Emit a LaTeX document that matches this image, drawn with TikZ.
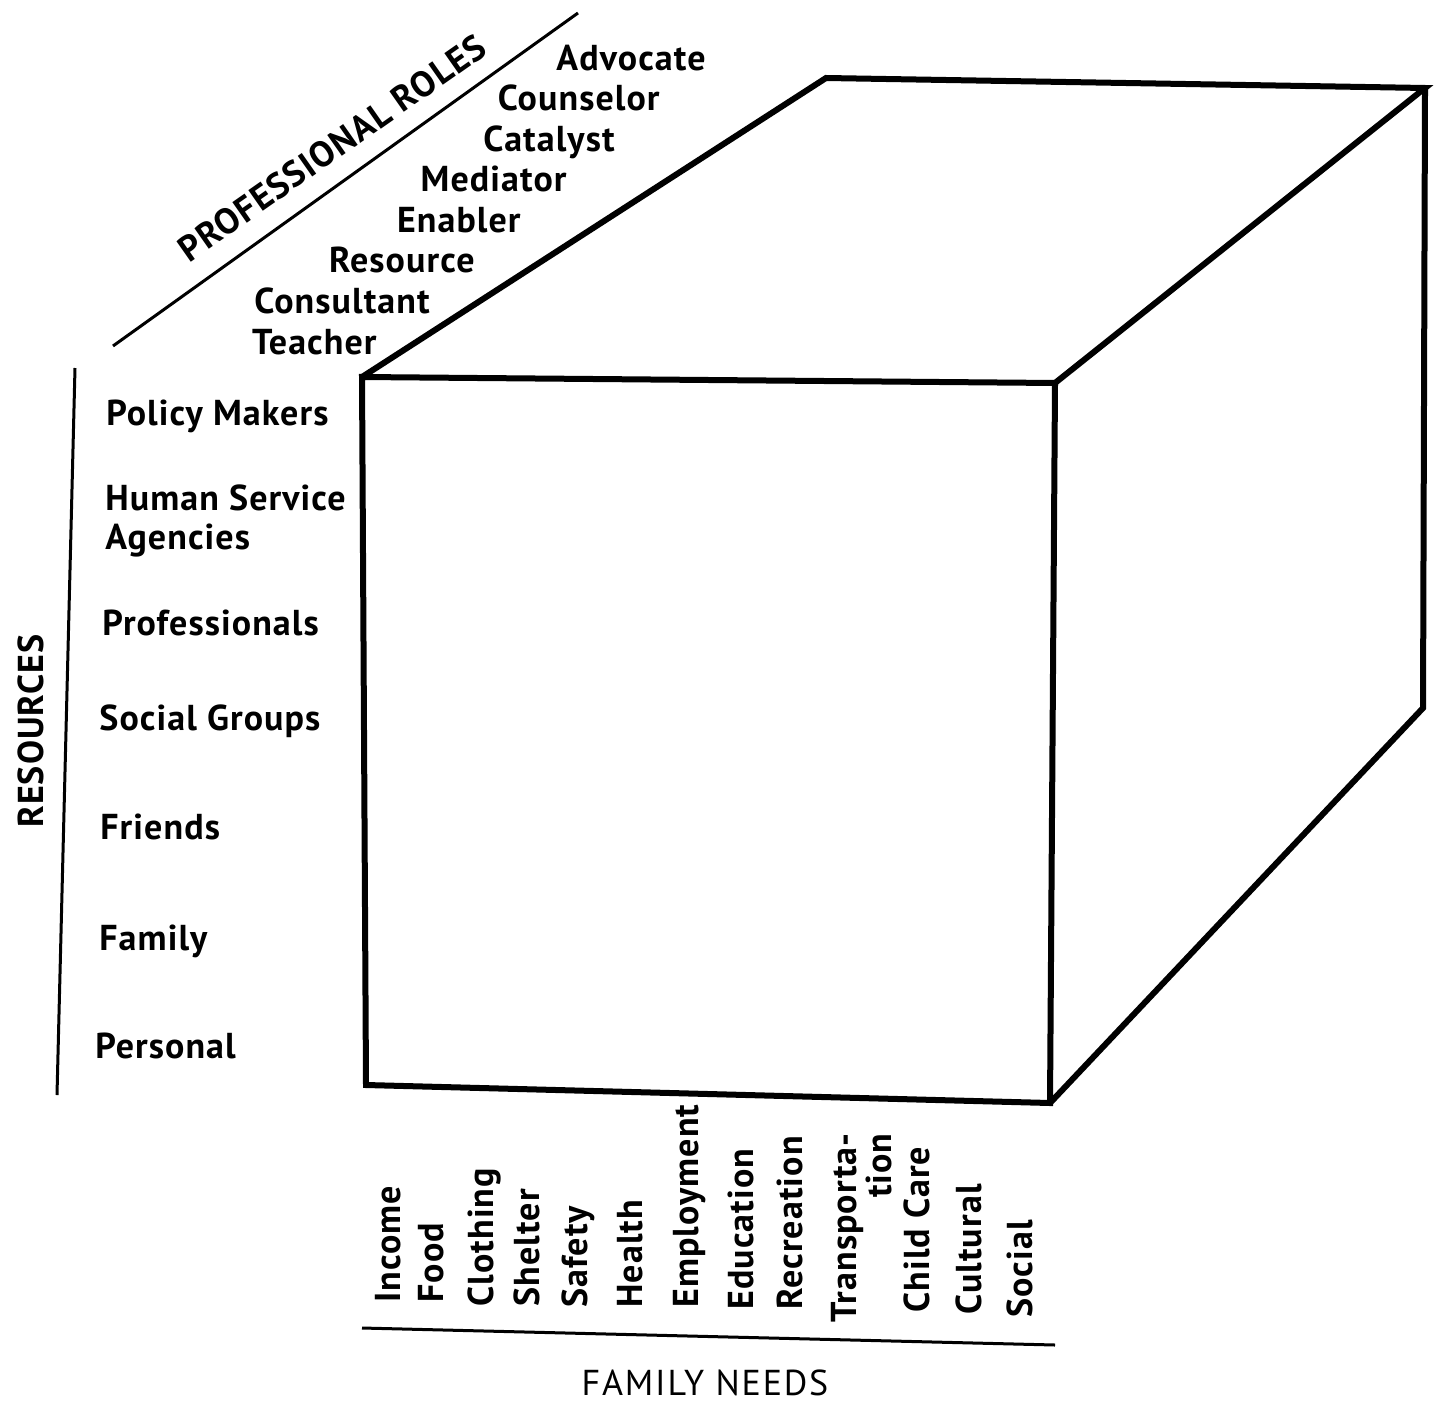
\documentclass[tikz,border=0pt]{standalone}
\usepackage{fontspec}
\setmainfont{PT Sans}[LetterSpace=3]
\begin{document}
\begin{tikzpicture}[x=0.5pt,y=-0.5pt,
  cube/.style={line width=3pt,line join=miter},
  axisline/.style={line width=1.5pt},
  lbl/.style={font=\fontsize{18}{20}\selectfont\bfseries,inner sep=0pt},
  need/.style={lbl,rotate=90,anchor=west,text height=0.72em,text depth=0.22em},
  axistitle/.style={font=\fontsize{18}{20}\selectfont,inner sep=0pt}]
\useasboundingbox (0,0) rectangle (1438,1401);
% cube corners
\coordinate (A) at (362,377);
\coordinate (B) at (1055,383);
\coordinate (C) at (366,1085);
\coordinate (D) at (1050,1103);
\coordinate (E) at (826,78);
\coordinate (F) at (1425,88);
\coordinate (G) at (1423,708);
\draw[cube] (A) -- (B) -- (D) -- (C) -- cycle;
\draw[cube] (A) -- (E) -- (F) -- (B);
\draw[cube] (F) -- (G) -- (D);
% axis lines
\coordinate (p1) at (113,346); \coordinate (p2) at (578,13);
\coordinate (r1) at (75,368);  \coordinate (r2) at (57,1095);
\coordinate (f1) at (362,1328); \coordinate (f2) at (1055,1345);
\draw[axisline] (p1) -- (p2);
\draw[axisline] (r1) -- (r2);
\draw[axisline] (f1) -- (f2);
% axis titles
\node[axistitle,font=\fontsize{18}{20}\selectfont\bfseries,rotate=35] (proftitle) at (332,148) {PROFESSIONAL ROLES};
\node[axistitle,font=\fontsize{18}{20}\selectfont\bfseries,rotate=90] (restitle) at (31,731) {RESOURCES};
\node[axistitle,font=\fontsize{18}{20}\selectfont\addfontfeatures{LetterSpace=5}] (famtitle) at (705,1383) {FAMILY NEEDS};
% professional roles
\node[lbl,anchor=base east] (advocate) at (706,71) {Advocate};
\node[lbl,anchor=base east] (counselor) at (660,111) {Counselor};
\node[lbl,anchor=base east] (catalyst) at (615,152) {Catalyst};
\node[lbl,anchor=base east] (mediator) at (567,192) {Mediator};
\node[lbl,anchor=base east] (enabler) at (521,233) {Enabler};
\node[lbl,anchor=base east] (resource) at (475,273) {Resource};
\node[lbl,anchor=base east] (consultant) at (430,314) {Consultant};
\node[lbl,anchor=base east] (teacher) at (377,354) {Teacher};
% resources
\node[lbl,anchor=base west] (policy) at (106,425) {Policy Makers};
\node[lbl,anchor=base west] (human) at (105,510) {Human Service};
\node[lbl,anchor=base west] (agencies) at (105,549) {Agencies};
\node[lbl,anchor=base west] (profs) at (102,635) {Professionals};
\node[lbl,anchor=base west] (social) at (99,730) {Social Groups};
\node[lbl,anchor=base west] (friends) at (100,839) {Friends};
\node[lbl,anchor=base west] (family) at (99,950) {Family};
\node[lbl,anchor=base west] (personal) at (95,1058) {Personal};
% family needs
\node[need] (income) at (395,1303) {Income};
\node[need] (food) at (438,1303) {Food};
\node[need] (clothing) at (488,1307) {Clothing};
\node[need] (shelter) at (534,1307) {Shelter};
\node[need] (safety) at (582,1308) {Safety};
\node[need] (health) at (637,1308) {Health};
\node[need] (employment) at (693,1308) {Employment};
\node[need] (education) at (748,1310) {Education};
\node[need] (recreation) at (797,1310) {Recreation};
\node[lbl,rotate=90,anchor=east,align=right,font=\fontsize{18}{15}\selectfont\bfseries] (transport) at (862,1133) {Transporta-\\tion};
\node[need] (childcare) at (924,1313) {Child Care};
\node[need] (cultural) at (976,1315) {Cultural};
\node[need] (socialneed) at (1027,1318) {Social};
\end{tikzpicture}
\end{document}
